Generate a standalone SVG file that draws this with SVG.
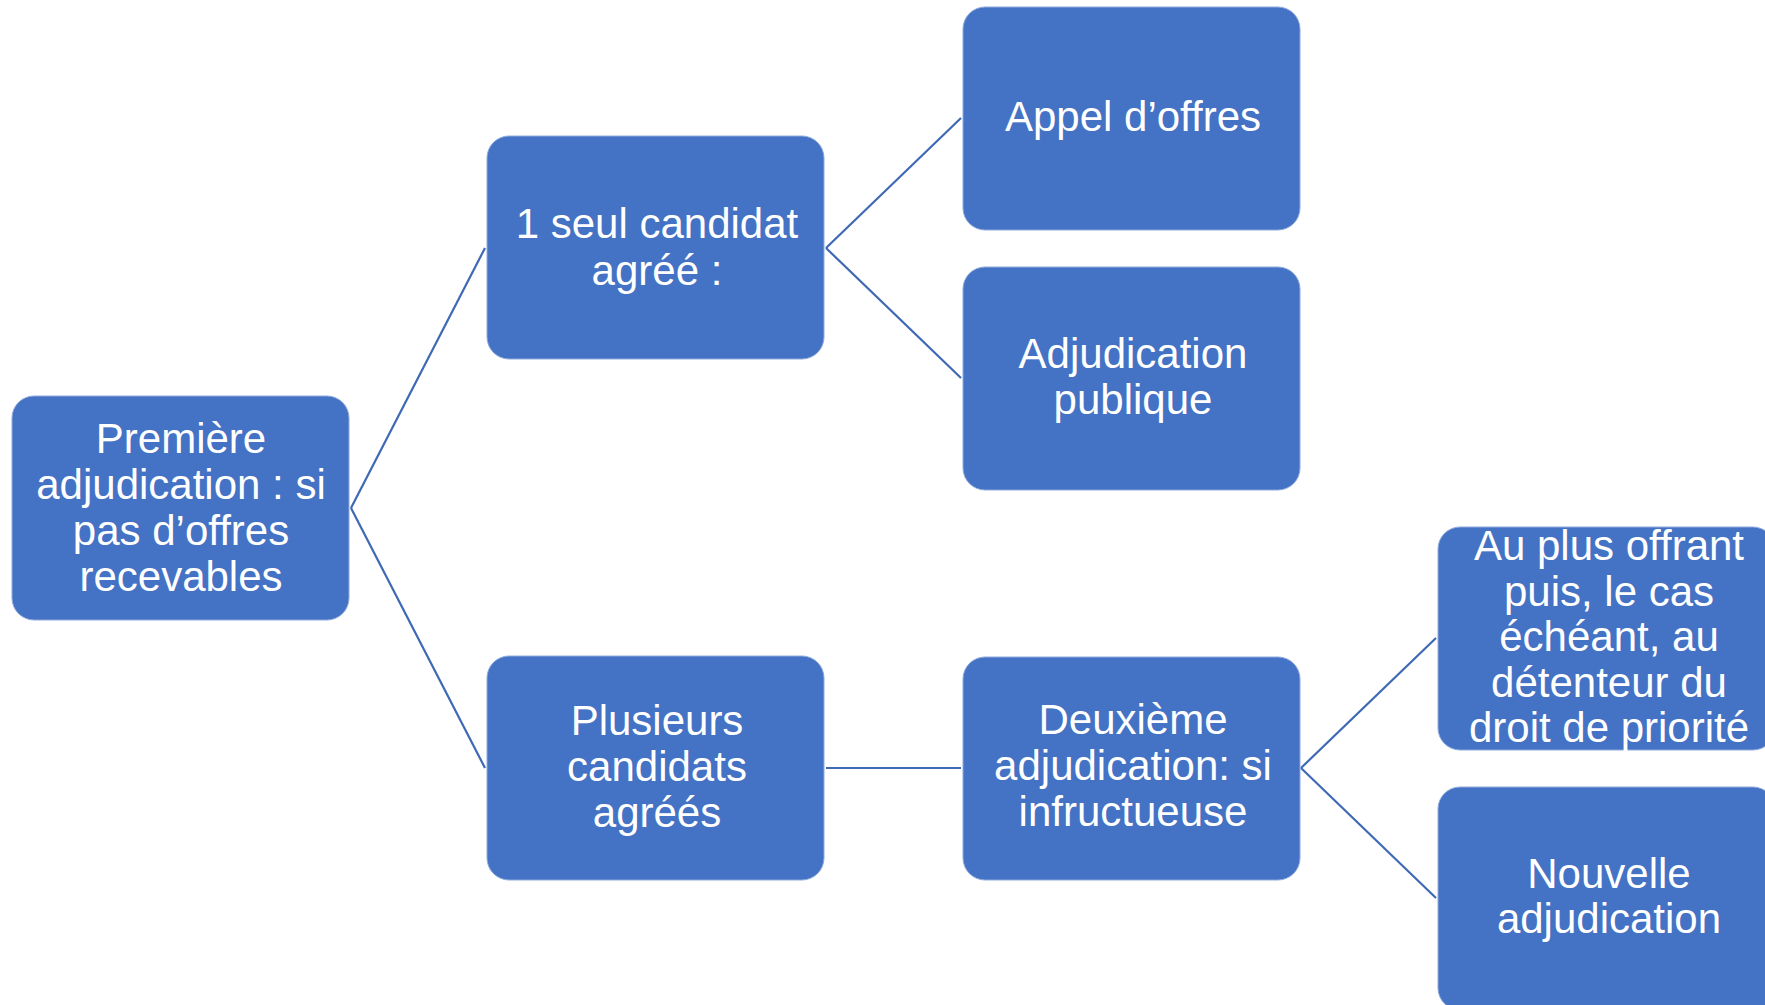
<svg xmlns="http://www.w3.org/2000/svg" width="1765" height="1005" viewBox="0 0 1765 1005">
<style>
.box{fill:#4472C4;stroke:#8FAADC;stroke-width:1}
.lbl{font-family:"Liberation Sans",Arial,sans-serif;font-size:42px;fill:#FFFFFF;text-anchor:middle}
.con line{stroke:#3F69B5;stroke-width:2.2;fill:none}
</style>
<rect width="1765" height="1005" fill="#FFFFFF"/>
<g id="connectors" class="con">
<line x1="351" y1="508" x2="485" y2="248"/>
<line x1="351" y1="508" x2="485" y2="768"/>
<line x1="826" y1="248" x2="961" y2="118"/>
<line x1="826" y1="248" x2="961" y2="378"/>
<line x1="826" y1="768" x2="961" y2="768"/>
<line x1="1301" y1="768" x2="1436" y2="638"/>
<line x1="1301" y1="768" x2="1436" y2="898"/>
</g>
<g id="n1">
<rect class="box" x="12" y="396" width="337" height="224" rx="22"/>
<text class="lbl" x="181"><tspan x="181" y="453">Première</tspan><tspan x="181" y="499">adjudication : si</tspan><tspan x="181" y="545">pas d’offres</tspan><tspan x="181" y="591">recevables</tspan></text>
</g>
<g id="n2">
<rect class="box" x="487" y="136" width="337" height="223" rx="22"/>
<text class="lbl"><tspan x="657" y="238">1 seul candidat</tspan><tspan x="657" y="285">agréé :</tspan></text>
</g>
<g id="n3">
<rect class="box" x="963" y="7" width="337" height="223" rx="22"/>
<text class="lbl"><tspan x="1133" y="131">Appel d’offres</tspan></text>
</g>
<g id="n4">
<rect class="box" x="963" y="267" width="337" height="223" rx="22"/>
<text class="lbl"><tspan x="1133" y="368">Adjudication</tspan><tspan x="1133" y="414">publique</tspan></text>
</g>
<g id="n5">
<rect class="box" x="487" y="656" width="337" height="224" rx="22"/>
<text class="lbl"><tspan x="657" y="735">Plusieurs</tspan><tspan x="657" y="781">candidats</tspan><tspan x="657" y="827">agréés</tspan></text>
</g>
<g id="n6">
<rect class="box" x="963" y="657" width="337" height="223" rx="22"/>
<text class="lbl"><tspan x="1133" y="734">Deuxième</tspan><tspan x="1133" y="780">adjudication: si</tspan><tspan x="1133" y="826">infructueuse</tspan></text>
</g>
<g id="n7">
<rect class="box" x="1438" y="527" width="337" height="223" rx="22"/>
<text class="lbl"><tspan x="1609" y="560">Au plus offrant</tspan><tspan x="1609" y="605.5">puis, le cas</tspan><tspan x="1609" y="651">échéant, au</tspan><tspan x="1609" y="696.5">détenteur du</tspan><tspan x="1609" y="742">droit de priorité</tspan></text>
</g>
<g id="n8">
<rect class="box" x="1438" y="787" width="337" height="223" rx="22"/>
<text class="lbl"><tspan x="1609" y="888">Nouvelle</tspan><tspan x="1609" y="933">adjudication</tspan></text>
</g>
</svg>
